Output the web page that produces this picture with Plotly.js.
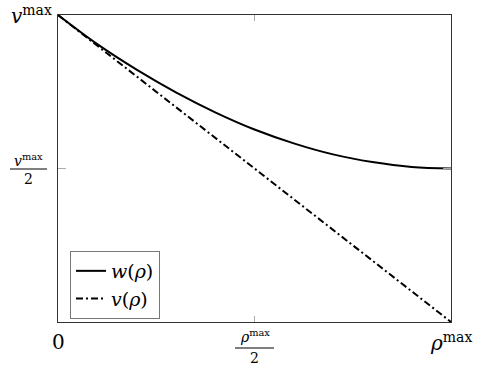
<!DOCTYPE html>
<html><head><meta charset="utf-8">
<script src="https://cdn.plot.ly/plotly-3.0.1.min.js"></script>
<style>html,body{margin:0;padding:0;background:#fff}</style>
</head><body>
<div id="chart" style="width:482px;height:370px"></div>
<script>
// density as fraction of rho^max, speed as fraction of v^max
const rhoW = [0, 0.1, 0.2, 0.3, 0.4, 0.5, 0.6, 0.7, 0.8, 0.9, 1.0];
const wVals = [1.0, 0.905, 0.822, 0.748, 0.683, 0.627, 0.582, 0.546, 0.521, 0.505, 0.5];
const rhoV = [0, 1];
const vVals = [1, 0];
const seriesNames = ['<i>w</i>(<i>ρ</i>)', '<i>v</i>(<i>ρ</i>)'];
const xTickVals = [0, 0.5, 1];
const yTickVals = [0.5, 1];

const F = 'DejaVu Serif';
const traces = [
  {x: rhoW, y: wVals, mode: 'lines', name: seriesNames[0], line: {color: '#000', width: 2, shape: 'spline'}},
  {x: rhoV, y: vVals, mode: 'lines', name: seriesNames[1], line: {color: '#000', width: 2, dash: '7px,3px,2px,3px'}}
];
const ann = [];
const shapes = [];
const big = 20, small = 14;
// x tick labels
ann.push({x: xTickVals[0], y: 0, xref: 'x', yref: 'y', yshift: -20, text: '0', showarrow: false, font: {family: F, size: big, color: '#000'}});
ann.push({x: xTickVals[1], y: 0, xref: 'x', yref: 'y', yshift: -14, text: '<i>ρ</i><sup>max</sup>', showarrow: false, font: {family: F, size: small, color: '#000'}});
ann.push({x: xTickVals[1], y: 0, xref: 'x', yref: 'y', yshift: -36, text: '2', showarrow: false, font: {family: F, size: small, color: '#000'}});
ann.push({x: xTickVals[2], y: 0, xref: 'x', yref: 'y', yshift: -20, text: '<i>ρ</i><sup>max</sup>', showarrow: false, font: {family: F, size: big, color: '#000'}});
// y tick labels
ann.push({x: 0, y: yTickVals[1], xref: 'x', yref: 'y', xanchor: 'right', xshift: -4, yshift: 0, text: '<i>v</i><sup>max</sup>', showarrow: false, font: {family: F, size: big, color: '#000'}});
ann.push({x: 0, y: yTickVals[0], xref: 'x', yref: 'y', xanchor: 'center', xshift: -30, yshift: 9, text: '<i>v</i><sup>max</sup>', showarrow: false, font: {family: F, size: small, color: '#000'}});
ann.push({x: 0, y: yTickVals[0], xref: 'x', yref: 'y', xanchor: 'center', xshift: -30, yshift: -10, text: '2', showarrow: false, font: {family: F, size: small, color: '#000'}});
// fraction bars
shapes.push({type: 'line', xref: 'paper', yref: 'paper', x0: (235-58)/393, x1: (274-58)/393, y0: -(348-322)/307, y1: -(348-322)/307, line: {color: '#000', width: 1}});
shapes.push({type: 'line', xref: 'paper', yref: 'paper', x0: (10-58)/393, x1: (47-58)/393, y0: (322-169)/307, y1: (322-169)/307, line: {color: '#000', width: 1}});
// inner ticks
shapes.push({type: 'line', xref: 'x', yref: 'paper', x0: 0.5, x1: 0.5, y0: 0, y1: 0.02, line: {color: '#aaa', width: 1}});
shapes.push({type: 'line', xref: 'x', yref: 'paper', x0: 0.5, x1: 0.5, y0: 0.98, y1: 1, line: {color: '#aaa', width: 1}});
shapes.push({type: 'line', xref: 'paper', yref: 'y', x0: 0, x1: 0.02, y0: 0.5, y1: 0.5, line: {color: '#aaa', width: 1}});
shapes.push({type: 'line', xref: 'paper', yref: 'y', x0: 0.98, x1: 1, y0: 0.5, y1: 0.5, line: {color: '#aaa', width: 1}});

const layout = {
  width: 482, height: 370,
  margin: {l: 58, r: 31, t: 15, b: 48},
  paper_bgcolor: '#fff', plot_bgcolor: '#fff',
  xaxis: {range: [0, 1], showgrid: false, zeroline: false, showticklabels: false, ticks: '', showline: true, mirror: true, linecolor: '#333', linewidth: 1.3},
  yaxis: {range: [0, 1], showgrid: false, zeroline: false, showticklabels: false, ticks: '', showline: true, mirror: true, linecolor: '#333', linewidth: 1.3},
  showlegend: true,
  legend: {x: (70-58)/393, y: (322-251)/307, xanchor: 'left', yanchor: 'top', bordercolor: '#777', borderwidth: 1, bgcolor: '#fff', font: {family: F, size: 19, color: '#000'}, tracegroupgap: 0, itemwidth: 30},
  annotations: ann,
  shapes: shapes
};
Plotly.newPlot('chart', traces, layout, {displayModeBar: false, staticPlot: true});
</script>
</body></html>
